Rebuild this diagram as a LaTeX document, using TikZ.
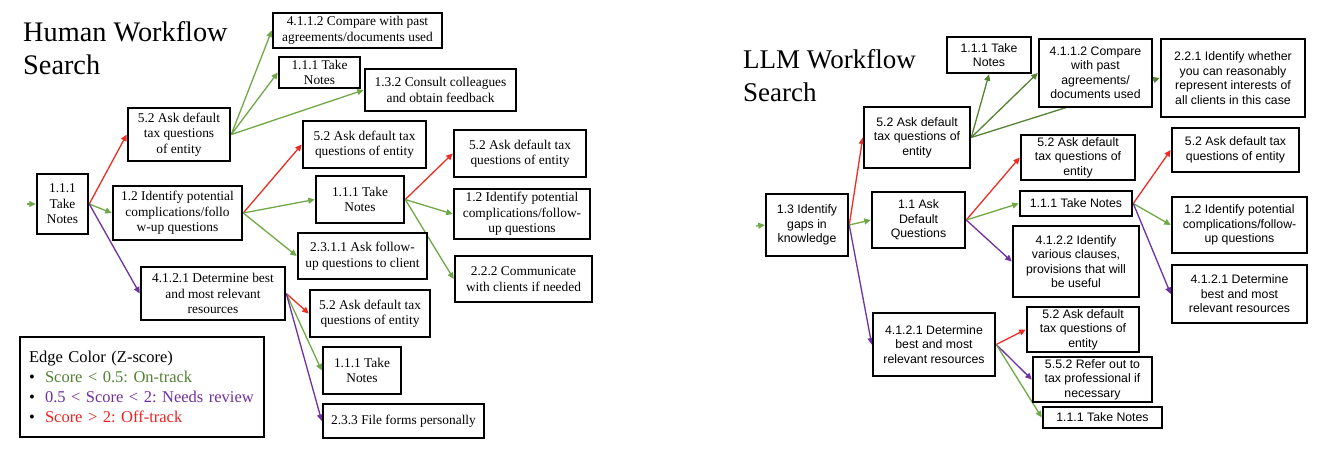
\documentclass[tikz,border=0pt]{standalone}
\usepackage{fontspec}
\setmainfont{Liberation Serif}
\newfontfamily\arialf{Liberation Sans}
\usetikzlibrary{arrows.meta,backgrounds}
\frenchspacing
\definecolor{ered}{RGB}{237,45,36}
\definecolor{egreen}{RGB}{112,168,71}
\definecolor{edgreen}{RGB}{84,130,53}
\definecolor{epurple}{RGB}{112,48,160}
\definecolor{lgreen}{RGB}{84,130,53}
\definecolor{lred}{RGB}{238,34,34}
\tikzset{
  box/.style={draw=black, line width=2.5pt, fill=white, align=center, inner sep=0pt,
    font=\fontsize{13.4}{15.5}\selectfont},
  sbox/.style={box, font=\arialf\fontsize{12.3}{14.5}\selectfont},
  sz/.style 2 args={minimum width=#1pt, minimum height=#2pt},
  edge/.style={line width=1.3pt, -{Triangle[length=6.5pt,width=6pt]}},
  title/.style={align=left, inner sep=0pt, anchor=north west, font=\fontsize{28.3}{33}\selectfont},
  legend/.style={draw=black, line width=1.6pt, fill=white, align=left, inner xsep=9pt, inner ysep=0pt,
    font=\fontsize{16.5}{19.8}\selectfont}
}
\begin{document}
\begin{tikzpicture}[x=1pt,y=-1pt]
\useasboundingbox (0,0) rectangle (1330,458);

% ---------------- Human workflow ----------------
\node[title] (t1) at (23,21.5) {Human Workflow\\Search};

\node[box, sz={51}{60}]  (A) at (62.5,204) {1.1.1\\Take\\Notes};
\node[box, sz={102}{53}] (B) at (179,134.5) {5.2 Ask default\\tax questions\\of entity};
\node[box, sz={129}{54}] (C) at (177.5,213) {1.2 Identify potential\\complications/follo\\w-up questions};
\node[box, sz={144}{53}] (D) at (213,293.5) {4.1.2.1 Determine best\\and most relevant\\resources};
\node[box, sz={169}{35}] (E) at (357.5,30.5) {4.1.1.2 Compare with past\\agreements/documents used};
\node[box, sz={81}{31}]  (F) at (319.5,72.5) {1.1.1 Take\\Notes};
\node[box, sz={151}{42}] (G) at (440.5,90) {1.3.2 Consult colleagues\\and obtain feedback};
\node[box, sz={123}{47}] (H) at (364.5,144.5) {5.2 Ask default tax\\questions of entity};
\node[box, sz={88}{47}]  (I) at (360,199.5) {1.1.1 Take\\Notes};
\node[box, sz={129}{46}] (J) at (362.5,256) {2.3.1.1 Ask follow-\\up questions to client};
\node[box, sz={132}{47}] (K) at (520,153.5) {5.2 Ask default tax\\questions of entity};
\node[box, sz={136}{50}] (L) at (522,214) {1.2 Identify potential\\complications/follow-\\up questions};
\node[box, sz={137}{46}] (M) at (523.5,279) {2.2.2 Communicate\\with clients if needed};
\node[box, sz={120}{47}] (N) at (370,313.5) {5.2 Ask default tax\\questions of entity};
\node[box, sz={78}{47}]  (O) at (362,370.5) {1.1.1 Take\\Notes};
\node[box, sz={161}{34}] (P) at (403.5,421) {2.3.3 File forms personally};

\node[legend, minimum width=244pt, minimum height=100pt, text width=226pt] (leg) at (142,387)
 {Edge Color (Z-score)\\
  \makebox[16pt][l]{\textbullet}{\color{lgreen}Score < 0.5: On-track}\\
  \makebox[16pt][l]{\textbullet}{\color{epurple}0.5 < Score < 2: Needs review}\\
  \makebox[16pt][l]{\textbullet}{\color{lred}Score > 2: Off-track}};

\coordinate (a0) at (27,204);

% ---------------- LLM workflow ----------------
\node[title, font=\fontsize{27}{33}\selectfont] (t2) at (743,49) {LLM Workflow\\Search};

\node[sbox, sz={82}{62}]  (R1) at (807,225) {1.3 Identify\\gaps in\\knowledge};
\node[sbox, sz={106}{61}] (R2) at (917,137.5) {5.2 Ask default\\tax questions of\\entity};
\node[sbox, sz={93}{56}]  (R3) at (918.5,220) {1.1 Ask\\Default\\Questions};
\node[sbox, sz={84}{36}]  (R4) at (989,55) {1.1.1 Take\\Notes};
\node[sbox, sz={113}{68}] (R5) at (1095.5,73) {4.1.1.2 Compare\\with past\\agreements/\\documents used};
\node[sbox, sz={144}{78}] (R6) at (1233,78) {2.2.1 Identify whether\\you can reasonably\\represent interests of\\all clients in this case};
\node[sbox, sz={114}{45}] (R7) at (1078,157.5) {5.2 Ask default\\tax questions of\\entity};
\node[sbox, sz={112}{25}] (R8) at (1076,203.5) {1.1.1 Take Notes};
\node[sbox, sz={127}{44}] (R9) at (1235.5,150) {5.2 Ask default tax\\questions of entity};
\node[sbox, sz={135}{56}] (R10) at (1239.5,225) {1.2 Identify potential\\complications/follow-\\up questions};
\node[sbox, sz={126}{71}] (R11) at (1076,261.5) {4.1.2.2 Identify\\various clauses,\\provisions that will\\be useful};
\node[sbox, sz={135}{58}] (R12) at (1239.5,294) {4.1.2.1 Determine\\best and most\\relevant resources};
\node[sbox, sz={122}{63}] (R13) at (934,344.5) {4.1.2.1 Determine\\best and most\\relevant resources};
\node[sbox, sz={112}{45}] (R14) at (1083,329.5) {5.2 Ask default\\tax questions of\\entity};
\node[sbox, sz={119}{45}] (R15) at (1092.5,379.5) {5.5.2 Refer out to\\tax professional if\\necessary};
\node[sbox, sz={119}{21}] (R16) at (1102.5,417.5) {1.1.1 Take Notes};

\coordinate (r0) at (756,226);

\begin{pgfonlayer}{background}
% left edges
\draw[edge, egreen] (a0) -- (A.west);
\draw[edge, ered] (A.east) -- (B.west);
\draw[edge, egreen] (A.east) -- (C.west);
\draw[edge, epurple] (A.east) -- (D.west);
\draw[edge, egreen] (B.east) -- (E.west);
\draw[edge, egreen] (B.east) -- (F.west);
\draw[edge, egreen] (B.east) -- (G.west);
\draw[edge, ered] (C.east) -- (H.west);
\draw[edge, egreen] (C.east) -- (I.west);
\draw[edge, egreen] (C.east) -- (J.west);
\draw[edge, ered] (I.east) -- (K.west);
\draw[edge, egreen] (I.east) -- (L.west);
\draw[edge, egreen] (I.east) -- (M.west);
\draw[edge, ered] (D.east) -- (N.west);
\draw[edge, egreen] (D.east) -- (O.west);
\draw[edge, epurple] (D.east) -- (P.west);
% right edges
\draw[edge, egreen] (r0) -- (R1.west);
\draw[edge, ered] (R1.east) -- (R2.west);
\draw[edge, egreen] (R1.east) -- (R3.west);
\draw[edge, epurple] (R1.east) -- (R13.west);
\draw[edge, edgreen] (R2.east) -- (R4.south);
\draw[edge, edgreen] (R2.east) -- (R5.west);
\draw[edge, edgreen] (R2.east) -- (R6.west);
\draw[edge, ered] (R3.east) -- (R7.west);
\draw[edge, egreen] (R3.east) -- (R8.west);
\draw[edge, epurple] (R3.east) -- (R11.west);
\draw[edge, ered] (R8.east) -- (R9.west);
\draw[edge, egreen] (R8.east) -- (R10.west);
\draw[edge, epurple] (R8.east) -- (R12.west);
\draw[edge, ered] (R13.east) -- (R14.west);
\draw[edge, epurple] (R13.east) -- (R15.west);
\draw[edge, egreen] (R13.east) -- (R16.west);
\end{pgfonlayer}
\end{tikzpicture}
\end{document}
